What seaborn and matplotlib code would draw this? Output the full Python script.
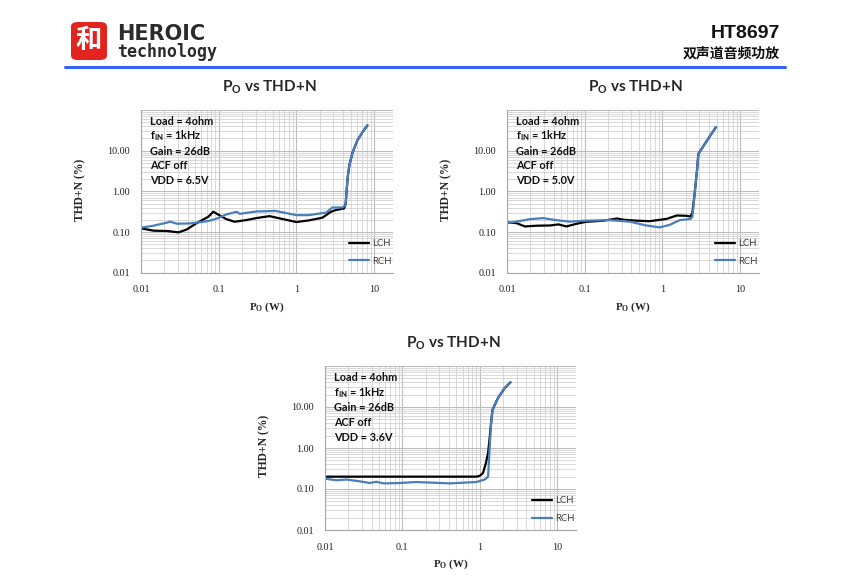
import numpy as np
import pandas as pd
import matplotlib
matplotlib.use('Agg')
import matplotlib.pyplot as plt
import seaborn as sns
from matplotlib.ticker import LogLocator, FixedLocator, FixedFormatter, NullFormatter
from matplotlib.patches import FancyBboxPatch
from matplotlib.lines import Line2D

# Datos: P_O (W) vs THD+N (%)
# VDD = 6.5V
p1_lch_x = [0.01, 0.0145, 0.0215, 0.0304, 0.039, 0.0497, 0.0635, 0.0735, 0.085, 0.098, 0.125, 0.16,
            0.228, 0.305, 0.45, 0.67, 1.0, 1.44, 2.16, 2.78, 3.2, 4.1, 4.3, 4.4, 4.57, 4.8, 5.3, 6.1, 7.1, 8.2]
p1_lch_y = [0.123, 0.108, 0.106, 0.098, 0.116, 0.157, 0.204, 0.237, 0.315, 0.27, 0.208, 0.179,
            0.197, 0.22, 0.246, 0.208, 0.176, 0.193, 0.225, 0.315, 0.346, 0.38, 0.5, 0.88, 2.2, 4.4, 9.2, 18, 28.6, 42]
p1_rch_x = [0.01, 0.0145, 0.0215, 0.0237, 0.029, 0.043, 0.0635, 0.077, 0.098, 0.125, 0.17, 0.187,
            0.305, 0.54, 1.0, 1.44, 2.4, 2.9, 3.9, 4.3, 4.4, 4.57, 4.8, 5.3, 6.1, 7.1, 8.2]
p1_rch_y = [0.128, 0.143, 0.17, 0.18, 0.16, 0.163, 0.179, 0.19, 0.22, 0.27, 0.315, 0.28,
            0.32, 0.33, 0.26, 0.26, 0.30, 0.40, 0.40, 0.46, 0.9, 2.2, 4.4, 9.2, 18, 28.6, 42]

# VDD = 5.0V
p2_lch_x = [0.01, 0.0132, 0.017, 0.024, 0.036, 0.046, 0.058, 0.079, 0.104, 0.174, 0.26, 0.32,
            0.47, 0.69, 1.13, 1.53, 2.07, 2.3, 2.43, 2.6, 2.8, 2.9, 3.5, 4.1, 4.9]
p2_lch_y = [0.172, 0.166, 0.137, 0.143, 0.145, 0.154, 0.137, 0.16, 0.178, 0.19, 0.215, 0.20,
            0.19, 0.185, 0.21, 0.255, 0.25, 0.24, 0.3, 0.88, 3.6, 8.3, 14.5, 23, 38]
p2_rch_x = [0.01, 0.0132, 0.0196, 0.029, 0.043, 0.064, 0.104, 0.21, 0.38, 0.62, 0.92, 1.24,
            1.67, 2.3, 2.43, 2.6, 2.8, 2.9, 3.5, 4.1, 4.9]
p2_rch_y = [0.166, 0.18, 0.207, 0.22, 0.196, 0.18, 0.19, 0.196, 0.18, 0.145, 0.13, 0.15,
            0.196, 0.21, 0.236, 0.88, 3.6, 8.3, 14.5, 23, 38]

# VDD = 3.6V
p3_lch_x = [0.01, 0.1, 0.5, 0.9, 1.0, 1.1, 1.2, 1.28, 1.33, 1.4, 1.46, 1.72, 2.1, 2.49]
p3_lch_y = [0.2, 0.2, 0.2, 0.2, 0.21, 0.245, 0.43, 0.76, 1.5, 4.1, 8.6, 16.6, 29, 40]
p3_rch_x = [0.01, 0.014, 0.019, 0.028, 0.038, 0.046, 0.057, 0.093, 0.15, 0.41, 0.9, 1.16,
            1.28, 1.33, 1.4, 1.46, 1.72, 2.1, 2.49]
p3_rch_y = [0.179, 0.163, 0.17, 0.154, 0.14, 0.15, 0.137, 0.14, 0.148, 0.137, 0.148, 0.17,
            0.2, 0.76, 4.1, 8.6, 16.6, 29, 40]

vdd_labels = ['VDD = 6.5V', 'VDD = 5.0V', 'VDD = 3.6V']
xtick_vals = [0.01, 0.1, 1, 10]
xtick_labels = ['0.01', '0.1', '1', '10']
ytick_vals = [0.01, 0.1, 1, 10]
ytick_labels = ['0.01', '0.10', '1.00', '10.00']

sns.set_style('white')
plt.rcParams['font.family'] = ['Liberation Serif', 'DejaVu Sans']
plt.rcParams['mathtext.fontset'] = 'custom'

color_l = '#000000'
color_r = '#4A7EBB'
sans = 'Lato'

fig = plt.figure(figsize=(8.5, 5.77), dpi=100)

# Encabezado
logo = FancyBboxPatch((71 / 850, 1 - 60 / 577), 36 / 850, 38 / 577,
                      boxstyle='round,pad=0.0,rounding_size=0.008',
                      transform=fig.transFigure, facecolor='#E3231F', edgecolor='none')
fig.patches.append(logo)
fig.text(89 / 850, 1 - 41 / 577, '和', color='white', fontsize=19, ha='center', va='center',
         family=['Noto Sans CJK SC', 'DejaVu Sans'], fontweight='bold')
fig.text(117 / 850, 1 - 34 / 577, 'HEROIC', fontsize=15, fontweight='heavy', color='#2b2b2b',
         family='DejaVu Sans', va='center', ha='left')
fig.text(117 / 850, 1 - 52 / 577, 'technology', fontsize=12, fontweight='bold', color='#2b2b2b',
         family='DejaVu Sans Mono', va='center', ha='left')
fig.text(780 / 850, 1 - 34 / 577, 'HT8697', fontsize=14, fontweight='bold', color='#111111',
         family='Liberation Sans', va='center', ha='right')
fig.text(780 / 850, 1 - 54 / 577, '双声道音频功放', fontsize=10, fontweight='bold', color='#111111',
         family=['Noto Sans CJK SC', 'DejaVu Sans'], va='center', ha='right')
fig.add_artist(Line2D([65 / 850, 785 / 850], [1 - 67 / 577, 1 - 67 / 577], color='#3366EE',
                      lw=2.2, transform=fig.transFigure))

# Posiciones de los ejes (izq, abajo, ancho, alto)
boxes = [
    (141 / 850, 1 - 272.7 / 577, 252 / 850, 162.7 / 577),
    (507 / 850, 1 - 272.7 / 577, 252 / 850, 162.7 / 577),
    (325 / 850, 1 - 530 / 577, 251 / 850, 164 / 577),
]
series = [
    (p1_lch_x, p1_lch_y, p1_rch_x, p1_rch_y),
    (p2_lch_x, p2_lch_y, p2_rch_x, p2_rch_y),
    (p3_lch_x, p3_lch_y, p3_rch_x, p3_rch_y),
]

for i, box in enumerate(boxes):
    ax = fig.add_axes(box)
    lx, ly, rx, ry = series[i]
    df = pd.concat([
        pd.DataFrame({'P': lx, 'THD': ly, 'canal': 'LCH'}),
        pd.DataFrame({'P': rx, 'THD': ry, 'canal': 'RCH'}),
    ])
    ax.set_xscale('log')
    ax.set_yscale('log')
    sns.lineplot(data=df, x='P', y='THD', hue='canal', palette={'LCH': color_l, 'RCH': color_r},
                 ax=ax, lw=1.6, sort=False, estimator=None, legend=True)
    ax.set_xlim(0.01, 17.5)
    ax.set_ylim(0.01, 100)

    ax.xaxis.set_major_locator(FixedLocator(xtick_vals))
    ax.xaxis.set_major_formatter(FixedFormatter(xtick_labels))
    ax.yaxis.set_major_locator(FixedLocator(ytick_vals + [100]))
    ax.yaxis.set_major_formatter(FixedFormatter(ytick_labels + ['']))
    ax.xaxis.set_minor_locator(LogLocator(base=10, subs=np.arange(2, 10)))
    ax.yaxis.set_minor_locator(LogLocator(base=10, subs=np.arange(2, 10)))
    ax.xaxis.set_minor_formatter(NullFormatter())
    ax.yaxis.set_minor_formatter(NullFormatter())
    ax.grid(which='major', color='#bdbdbd', lw=0.8)
    ax.grid(which='minor', color='#d2d2d2', lw=0.6)
    ax.set_axisbelow(True)
    ax.tick_params(which='both', length=0, labelsize=7.3, colors='#222222')
    ax.tick_params(axis='x', pad=9)
    ax.tick_params(axis='y', pad=8)
    for s in ['top', 'right']:
        ax.spines[s].set_visible(False)
    for s in ['left', 'bottom']:
        ax.spines[s].set_color('#a6a6a6')
        ax.spines[s].set_linewidth(0.8)

    ax.set_xlabel('')
    ax.set_ylabel('')
    ax.text(0.5, -0.21, r'P$_\mathregular{O}$ (W)', transform=ax.transAxes, ha='center', va='center',
            fontsize=7.8, fontweight='bold')
    ax.text(-0.242, 0.51, 'THD+N (%)', transform=ax.transAxes, ha='center', va='center',
            fontsize=8.4, fontweight='bold', rotation=90)
    ax.text(0.51, 1.14, r'P$_\mathregular{O}$ vs THD+N', transform=ax.transAxes, ha='center',
            va='center', fontsize=11, fontweight='bold', family=sans)

    cond = ['Load = 4ohm', r'f$_\mathregular{IN}$ = 1kHz', 'Gain = 26dB', 'ACF off', vdd_labels[i]]
    for j, t in enumerate(cond):
        ax.text(0.036, 0.932 - j * 0.092, t, transform=ax.transAxes, ha='left', va='center',
                fontsize=7.8, fontweight='bold', family=sans, color='#111111')

    leg = ax.legend(loc='lower right', bbox_to_anchor=(1.01, 0.02), frameon=False,
                    handlelength=2.2, labelspacing=0.9, handletextpad=0.3, borderaxespad=0,
                    prop={'family': sans, 'size': 6.8})
    for t in leg.get_texts():
        t.set_color('#404040')

fig.savefig('out.png', dpi=100)
